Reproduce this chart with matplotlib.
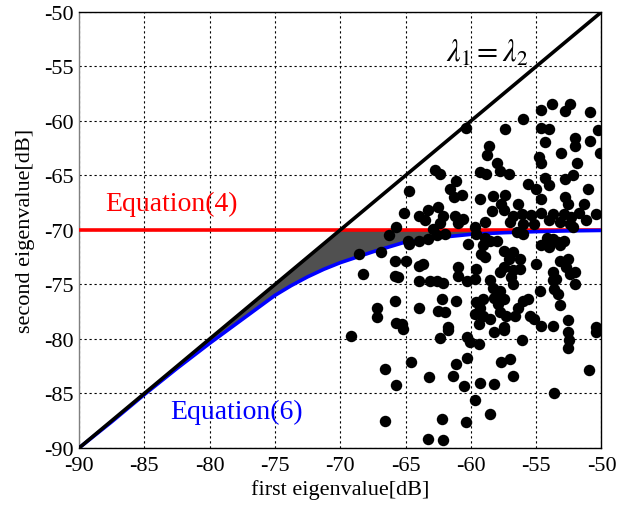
import matplotlib
matplotlib.use("Agg")
import matplotlib.pyplot as plt
import numpy as np

plt.rcParams['font.family'] = ['Liberation Serif', 'DejaVu Serif']
plt.rcParams['mathtext.fontset'] = 'stix'
plt.rcParams['axes.unicode_minus'] = False

# Theoretical curves
diag_x = [-90, -50]
diag_y = [-90, -50]
eq4_level = -70
eq6_x = [-90, -87.5, -85, -82.5, -80, -77.5, -75, -73.75, -72.5, -71.25, -70,
         -68.75, -67.5, -65, -62.5, -60, -57.5, -55, -52.5, -50]
eq6_y = [-90.0, -87.6, -85.1, -82.7, -80.4, -78.2, -76.0, -75.1, -74.3, -73.6, -73.0,
         -72.5, -72.0, -71.1, -70.7, -70.4, -70.25, -70.15, -70.08, -70.04]

# Measured eigenvalue pairs [dB]
pts_x = [
    -60.4, -62.75, -62.4, -64.75, -61.1, -61.6, -60.7, -61.3, -62.5,
    -54.65, -53.8, -52.4, -52.8, -50.9, -56.0, -57.35, -54.6, -54.0, -50.3,
    -54.3, -52.0, -52.05, -50.85, -50.1, -53.1, -58.6, -58.8, -54.8, -54.65,
    -58.0, -57.8, -59.3, -58.85, -57.1, -51.9, -52.2, -52.8, -54.3, -54.0,
    -55.6, -55.0, -51.0, -59.3, -58.3, -57.4, -54.6, -56.4, -52.8, -52.55,
    -51.3, -57.7,
    -65.1, -64.0, -63.3, -63.5, -62.1, -62.4, -61.2, -60.6, -61.0, -65.7,
    -66.3, -64.8, -64.7, -64.0, -63.3, -62.6, -62.9, -62.0, -60.2, -68.55,
    -66.9, -65.8, -65.0, -68.25, -65.8, -65.6, -64.0, -63.7, -64.0, -63.1,
    -62.6, -62.1, -61.0, -61.0, -60.3, -62.2, -61.1, -65.8, -64.0, -67.2,
    -67.2, -62.5, -62.0, -65.7, -65.3, -61.75,
    -58.4, -57.5, -56.8, -56.1, -55.4, -54.6, -53.7, -52.9, -52.3, -51.7,
    -51.15, -50.4, -57.0, -56.0, -55.2, -54.0, -53.2, -52.4, -52.2, -58.9,
    -59.7, -59.6, -58.9, -58.55, -58.0, -59.1, -56.5, -56.0, -54.2, -53.7,
    -53.3, -52.9, -54.6, -54.0, -53.2, -57.5, -56.8, -57.1, -56.25, -59.2,
    -58.9, -55.0, -53.2, -52.55, -52.7, -57.5, -57.8, -56.8, -56.25, -56.9,
    -56.8, -53.7, -53.45, -52.4, -52.05, -53.7, -53.6, -52.05, -58.55, -58.3,
    -59.6, -59.7, -57.8, -57.5, -58.2, -57.9, -55.6, -56.0, -54.7, -53.3,
    -53.2, -59.6, -59.1, -56.4, -59.3, -59.7, -59.1, -58.55, -57.8, -57.3,
    -56.6, -55.5, -55.2, -54.6, -53.7, -52.55, -50.4, -57.5, -59.4,
    -69.2, -65.2, -62.4, -61.75, -60.3, -64.55, -66.6, -65.75, -63.2, -61.1,
    -61.4, -60.5, -60.3, -66.6, -62.2, -60.4, -63.3, -62.1,
    -58.2, -57.5, -52.6, -52.5, -52.55, -50.4, -60.1, -59.4, -56.1, -57.7,
    -57.0, -56.8, -59.3, -58.25, -50.95, -53.6, -59.7, -58.55,
]
pts_y = [
    -60.6, -64.5, -64.9, -66.4, -65.5, -66.2, -66.8, -67.0, -67.9,
    -59.0, -58.4, -58.4, -59.1, -59.2, -59.8, -60.7, -60.6, -60.7, -60.8,
    -61.9, -61.6, -62.3, -61.8, -62.9, -62.9, -62.3, -63.1, -63.3, -63.9,
    -63.9, -64.6, -64.65, -64.9, -64.9, -63.9, -65.0, -65.3, -65.2, -65.9,
    -65.8, -66.2, -66.2, -67.2, -66.9, -66.8, -67.2, -67.6, -67.0, -67.6,
    -67.6, -67.6,
    -68.4, -68.7, -68.2, -69.1, -68.7, -69.4, -68.7, -69.0, -69.4, -69.75,
    -70.5, -71.0, -71.3, -71.0, -70.8, -70.5, -69.9, -70.4, -71.3, -72.2,
    -72.0, -72.8, -72.8, -74.0, -74.2, -74.3, -73.3, -73.1, -74.65, -74.65,
    -74.7, -74.9, -73.4, -74.2, -74.65, -76.3, -76.5, -76.5, -77.2, -77.2,
    -78.0, -77.4, -77.55, -78.5, -78.6, -78.9,
    -68.3, -68.2, -68.7, -68.5, -68.6, -68.4, -68.5, -68.5, -68.8, -68.4,
    -69.1, -68.5, -69.3, -69.45, -69.45, -69.1, -69.3, -69.45, -69.75, -69.3,
    -69.75, -70.4, -70.7, -71.0, -71.0, -71.4, -70.2, -70.4, -70.7, -70.8,
    -71.1, -71.0, -71.4, -71.6, -71.4, -71.9, -72.05, -72.7, -72.7, -72.2,
    -72.5, -73.1, -72.8, -72.7, -73.4, -73.4, -73.9, -73.7, -73.6, -74.3,
    -74.95, -73.9, -74.5, -74.0, -73.9, -74.6, -75.4, -75.0, -74.6, -75.3,
    -73.6, -74.5, -75.6, -76.3, -76.2, -76.8, -76.3, -76.5, -75.6, -75.9,
    -76.9, -76.6, -76.3, -77.2, -77.2, -77.7, -77.9, -78.2, -77.55, -77.9,
    -77.9, -77.9, -78.2, -78.8, -78.8, -78.3, -78.9, -78.9, -78.6,
    -79.7, -79.1, -79.9, -79.2, -79.8, -82.1, -82.75, -84.2, -83.5, -82.3,
    -83.4, -84.3, -81.7, -87.5, -87.3, -87.6, -89.2, -89.3,
    -79.4, -79.2, -79.4, -80.1, -80.8, -79.4, -80.3, -80.5, -80.1, -82.1,
    -81.8, -83.4, -84.0, -84.1, -82.8, -85.0, -85.6, -86.9,
]

xticks = [-90, -85, -80, -75, -70, -65, -60, -55, -50]
yticks = [-90, -85, -80, -75, -70, -65, -60, -55, -50]

fig = plt.figure(figsize=(6.22, 5.10), dpi=100)
ax = fig.add_axes([0.127, 0.1196, 0.840, 0.855])

eq6_x_arr = np.array(eq6_x)
upper = np.minimum(eq6_x_arr, eq4_level)
ax.fill_between(eq6_x_arr, np.array(eq6_y), upper, where=upper >= np.array(eq6_y),
                color='#505050', linewidth=0, zorder=2)
ax.axhline(eq4_level, color='#ff0000', linewidth=2.6, zorder=3)
ax.plot(eq6_x, eq6_y, color='#0000ff', linewidth=2.6, zorder=3)
ax.plot(diag_x, diag_y, color='black', linewidth=2.6, zorder=4)
ax.scatter(pts_x, pts_y, s=68, color='black', linewidths=0, zorder=5)

ax.set_xlim(-90, -50)
ax.set_ylim(-90, -50)
ax.set_xticks(xticks)
ax.set_yticks(yticks)
ax.tick_params(length=0, labelsize=16)
ax.tick_params(axis='x', pad=6)
ax.tick_params(axis='y', pad=4)
ax.grid(True, color='black', linestyle=(0, (2, 2.5)), linewidth=0.8)
ax.set_axisbelow(True)
ax.spines['left'].set_color('#808080')
for side in ['top', 'right', 'bottom']:
    ax.spines[side].set_color('black')
for s in ax.spines.values():
    s.set_linewidth(1.0)

ax.set_xlabel('first eigenvalue[dB]', fontsize=16, labelpad=3)
ax.set_ylabel('second eigenvalue[dB]', fontsize=16, labelpad=6)

ax.text(-88.0, -67.6, 'Equation(4)', color='#ff0000', fontsize=20, ha='left', va='center')
ax.text(-83.0, -86.6, 'Equation(6)', color='#0000ff', fontsize=20, ha='left', va='center')
ax.text(-61.9, -53.7, r'$\lambda_1 = \lambda_2$', color='black', fontsize=22, ha='left', va='center')

fig.savefig('out.png', dpi=100)
